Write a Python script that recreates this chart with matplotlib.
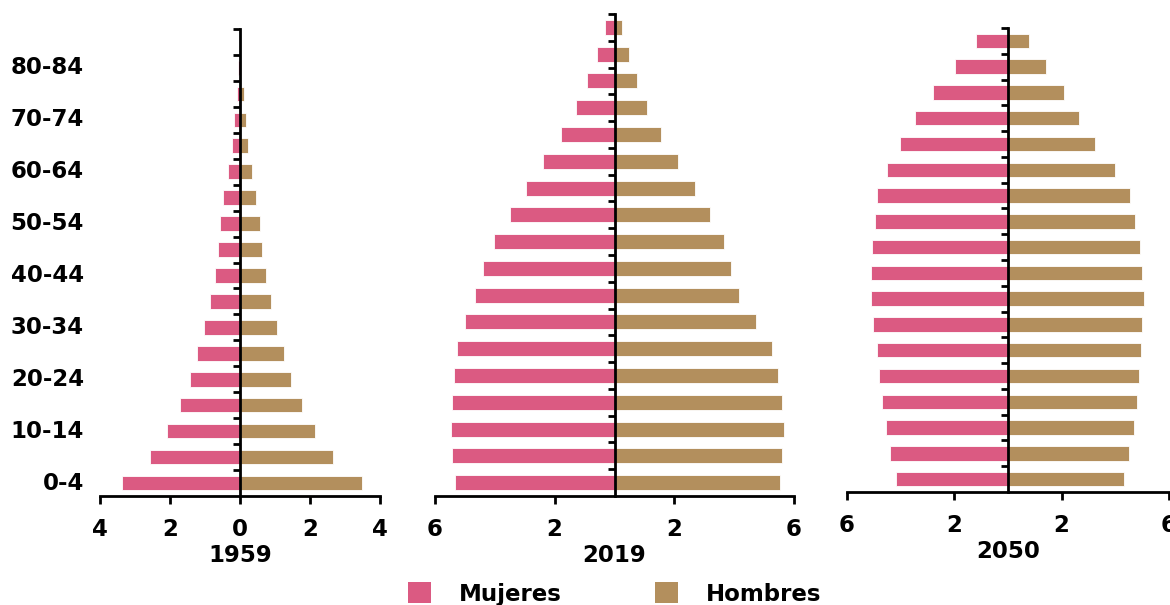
import numpy as np
import matplotlib
matplotlib.use('Agg')
import matplotlib.pyplot as plt
from matplotlib.patches import Patch

plt.rcParams['font.family'] = ['DejaVu Sans']
plt.rcParams['font.weight'] = 'bold'

ages = ['0-4', '5-9', '10-14', '15-19', '20-24', '25-29', '30-34', '35-39',
        '40-44', '45-49', '50-54', '55-59', '60-64', '65-69', '70-74',
        '75-79', '80-84', '85+']

years = ['1959', '2019', '2050']

# porcentaje de la poblacion por grupo de edad
muj_1959 = [3.36, 2.57, 2.08, 1.72, 1.43, 1.22, 1.02, 0.86, 0.71, 0.63,
            0.56, 0.48, 0.35, 0.24, 0.17, 0.10, 0.05, 0.0]
hom_1959 = [3.48, 2.66, 2.15, 1.77, 1.46, 1.25, 1.06, 0.89, 0.74, 0.64,
            0.57, 0.47, 0.35, 0.24, 0.18, 0.10, 0.04, 0.0]

muj_2019 = [5.33, 5.42, 5.47, 5.43, 5.37, 5.28, 5.00, 4.66, 4.39, 4.04,
            3.50, 2.96, 2.38, 1.79, 1.30, 0.91, 0.59, 0.33]
hom_2019 = [5.53, 5.61, 5.67, 5.61, 5.47, 5.26, 4.73, 4.17, 3.89, 3.67,
            3.20, 2.70, 2.12, 1.57, 1.10, 0.74, 0.47, 0.24]

muj_2050 = [4.19, 4.38, 4.54, 4.69, 4.79, 4.90, 5.02, 5.11, 5.11, 5.07,
            4.97, 4.87, 4.50, 4.02, 3.46, 2.81, 1.99, 1.19]
hom_2050 = [4.34, 4.52, 4.68, 4.80, 4.88, 4.94, 5.01, 5.05, 5.01, 4.92,
            4.75, 4.55, 3.98, 3.26, 2.64, 2.10, 1.41, 0.79]

xticks_1959 = [-4, -2, 0, 2, 4]
xticks_otros = [-6, -2, 2, 6]

pink = '#DB5A82'
brown = '#B38F5D'

W, H = 1170, 605
fig = plt.figure(figsize=(W / 100, H / 100), dpi=100)

# posiciones en pixeles: izquierda, arriba, derecha, abajo
boxes = [(100, 29, 380, 496), (435, 14, 794, 496), (847, 28, 1169, 492)]
datos = [(muj_1959, hom_1959, xticks_1959, 4),
         (muj_2019, hom_2019, xticks_otros, 6),
         (muj_2050, hom_2050, xticks_otros, 6)]

y = np.arange(len(ages))
fs = 16.5

for i, (box, (muj, hom, xt, lim)) in enumerate(zip(boxes, datos)):
    l, t, r, b = box
    ax = fig.add_axes([l / W, 1 - b / H, (r - l) / W, (b - t) / H])
    ax.barh(y, -np.array(muj), height=0.56, color=pink, edgecolor='white',
            linewidth=0.6, zorder=2)
    ax.barh(y, hom, height=0.56, color=brown, edgecolor='white',
            linewidth=0.6, zorder=2)
    ax.set_xlim(-lim, lim)
    ax.set_ylim(-0.5, len(ages) - 0.5)

    for s in ['top', 'right']:
        ax.spines[s].set_visible(False)
    ax.spines['left'].set_position(('data', 0))
    ax.spines['left'].set_linewidth(2.0)
    ax.spines['left'].set_zorder(3)
    ax.spines['bottom'].set_linewidth(2.0)

    ax.set_yticks([])
    ax.set_yticks(y + 0.5, minor=True)
    ax.tick_params(axis='y', which='minor', direction='out', length=5,
                   width=2.0, color='black')

    ax.set_xticks(xt)
    ax.set_xticklabels([str(abs(v)) for v in xt], fontsize=fs,
                       fontweight='bold')
    ax.tick_params(axis='x', direction='out', length=6, width=2.0,
                   pad=10)
    ax.set_xlabel(years[i], fontsize=fs, fontweight='bold', labelpad=2)

    if i == 0:
        for k in range(0, len(ages), 2):
            ax.text(-0.057, k, ages[k], transform=ax.get_yaxis_transform(),
                    ha='right', va='center', fontsize=fs, fontweight='bold')

handles = [Patch(facecolor=pink, edgecolor='none', label='Mujeres'),
           Patch(facecolor=brown, edgecolor='none', label='Hombres')]
fig.legend(handles=handles, loc='center left',
           bbox_to_anchor=(408 / W, 1 - 594 / H), ncol=2, frameon=False,
           fontsize=fs, prop={'weight': 'bold', 'size': fs},
           handlelength=1.0, handleheight=1.0, handletextpad=1.2,
           columnspacing=4.1, borderpad=0, borderaxespad=0)

fig.savefig('out.png', dpi=100)
